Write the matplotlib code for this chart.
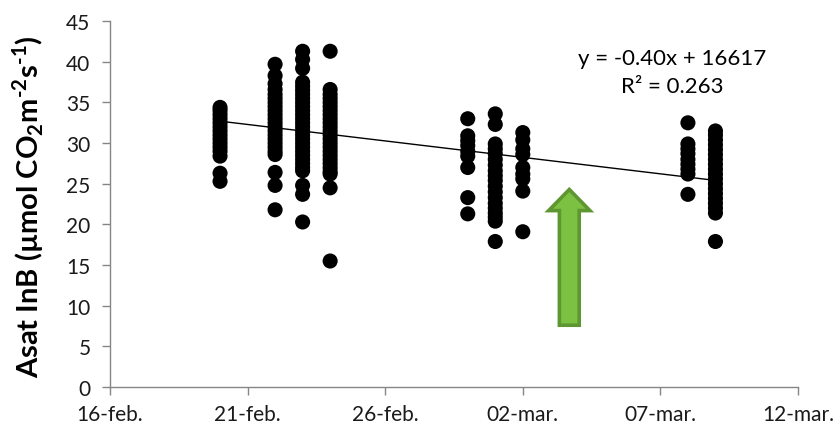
import datetime as dt
import numpy as np
import matplotlib
matplotlib.use("Agg")
import matplotlib.pyplot as plt
import matplotlib.dates as mdates
from matplotlib.patches import FancyArrow

plt.rcParams['font.family'] = ['Lato', 'DejaVu Sans']
plt.rcParams['mathtext.fontset'] = 'custom'
plt.rcParams['mathtext.rm'] = 'Lato'
plt.rcParams['mathtext.bf'] = 'Lato:bold'

# Measurement dates and light-saturated assimilation readings per date
dates = ["2012-02-20", "2012-02-22", "2012-02-23", "2012-02-24",
         "2012-02-29", "2012-03-01", "2012-03-02", "2012-03-08", "2012-03-09"]

asat_0220 = [34.4, 34.0, 33.5, 33.0, 32.5, 32.0, 31.5, 31.0, 30.5, 30.0, 29.5, 29.0, 28.4, 26.3, 25.3]
asat_0222 = [39.7, 38.3, 37.3, 36.6, 36.0, 35.5, 35.0, 34.5, 34.0, 33.5, 33.0, 32.5, 32.0, 31.5,
             31.0, 30.5, 30.0, 29.5, 29.0, 28.6, 26.4, 24.8, 21.8]
asat_0223 = [41.3, 40.3, 39.2, 37.5, 37.0, 36.5, 36.0, 35.5, 35.0, 34.5, 34.0, 33.5, 33.0, 32.5,
             32.0, 31.5, 31.0, 30.5, 30.0, 29.5, 29.0, 28.5, 28.0, 27.5, 27.0, 26.6, 24.8, 23.7, 20.3]
asat_0224 = [41.3, 36.6, 36.0, 35.5, 35.0, 34.5, 34.0, 33.5, 33.0, 32.5, 32.0, 31.5, 31.0, 30.5,
             30.0, 29.5, 29.0, 28.5, 28.0, 27.5, 27.0, 26.5, 26.2, 24.5, 15.5]
asat_0229 = [33.0, 30.9, 30.3, 29.7, 29.0, 28.4, 27.0, 23.3, 21.3]
asat_0301 = [33.6, 32.3, 29.9, 29.3, 28.7, 28.0, 27.3, 26.6, 26.0, 25.4, 24.7, 24.0, 23.3, 22.6,
             22.0, 21.4, 20.9, 20.4, 17.9]
asat_0302 = [31.3, 30.4, 29.3, 28.6, 27.0, 26.2, 25.6, 24.1, 19.1]
asat_0308 = [32.5, 29.9, 29.3, 28.7, 28.0, 27.4, 26.8, 26.2, 23.7]
asat_0309 = [31.5, 31.0, 30.4, 29.8, 29.2, 28.6, 28.0, 27.4, 26.8, 26.2, 25.6, 25.0, 24.4, 23.8,
             23.2, 22.6, 22.0, 21.4, 17.9]

asat = [asat_0220, asat_0222, asat_0223, asat_0224, asat_0229,
        asat_0301, asat_0302, asat_0308, asat_0309]

# Linear trend (x in spreadsheet serial days)
trend_slope = -0.4049
trend_intercept = 16617.0
trend_r2 = 0.263
serial_offset = 25569.0  # spreadsheet serial of 1970-01-01

x_ticks = ["2012-02-16", "2012-02-21", "2012-02-26", "2012-03-02", "2012-03-07", "2012-03-12"]
x_tick_labels = ["16-feb.", "21-feb.", "26-feb.", "02-mar.", "07-mar.", "12-mar."]
y_ticks = [0, 5, 10, 15, 20, 25, 30, 35, 40, 45]

# Annotation arrow (date, base value, tip value)
arrow_date = "2012-03-03"
arrow_day_shift = 0.69
arrow_base = 7.6
arrow_tip = 24.3


def to_num(s):
    return mdates.date2num(dt.datetime.strptime(s, "%Y-%m-%d"))


fig = plt.figure(figsize=(8.33, 4.35), dpi=100)
ax = fig.add_axes([0.132, 0.108, 0.826, 0.841])

xs, ys = [], []
for d, vals in zip(dates, asat):
    xs.extend([to_num(d)] * len(vals))
    ys.extend(vals)
ax.scatter(xs, ys, s=118, color='black', edgecolors='none', zorder=3)

x_first, x_last = to_num(dates[0]), to_num(dates[-1])
tx = np.array([x_first, x_last])
ty = trend_slope * (tx + serial_offset) + trend_intercept
ax.plot(tx, ty, color='black', lw=1.0, zorder=4)

ax.text(0.817, 0.862,
        f"y = {trend_slope:.2f}x + {trend_intercept:.0f}\nR² = {trend_r2:.3f}",
        transform=ax.transAxes, ha='center', va='center', multialignment='center',
        fontsize=16, color='black', linespacing=1.5)

ax_x = to_num(arrow_date) + arrow_day_shift
ax.add_patch(FancyArrow(ax_x, arrow_base, 0, arrow_tip - arrow_base,
                        width=0.72, head_width=1.5, head_length=2.6,
                        length_includes_head=True, facecolor='#7DC142',
                        edgecolor='#5E9632', lw=2.6, zorder=5))

ax.set_xlim(to_num(x_ticks[0]), to_num(x_ticks[-1]))
ax.set_ylim(0, 45)
ax.set_xticks([to_num(t) for t in x_ticks])
ax.set_xticklabels(x_tick_labels)
ax.set_yticks(y_ticks)

for side in ['top', 'right']:
    ax.spines[side].set_visible(False)
for side in ['left', 'bottom']:
    ax.spines[side].set_color('#868686')
    ax.spines[side].set_linewidth(1.0)
ax.tick_params(axis='both', direction='out', length=6, width=1.0, color='#868686',
               labelsize=15, labelcolor='#1a1a1a')
ax.tick_params(axis='y', pad=8)
ax.tick_params(axis='x', pad=6)

# Hyphen (U+2010) keeps the exponent signs short inside mathtext
ax.set_ylabel('Asat InB (µmol CO$_{\\mathbf{2}}$m$^{\\mathbf{\u20102}}$s$^{\\mathbf{\u20101}}$)',
              fontsize=21, fontweight='bold')
ax.yaxis.set_label_coords(-0.093, 0.495)

fig.savefig("out.png", dpi=100)
